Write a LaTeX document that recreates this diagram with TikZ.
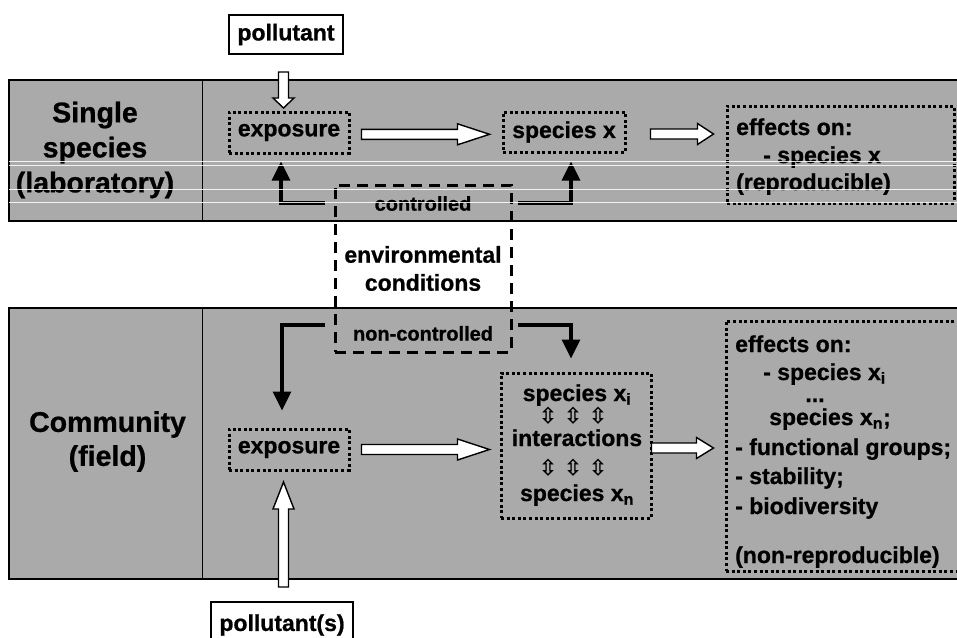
\documentclass[tikz,border=0pt]{standalone}
\usepackage{fontspec}
\setmainfont{Liberation Sans}[BoldFeatures={FakeBold=0.8}]
\newfontfamily\symfont{DejaVu Sans}[FakeBold=1.2]
\usetikzlibrary{arrows.meta,calc}
\definecolor{bandgray}{RGB}{170,170,170}
\newcommand\fs[2]{\fontsize{#1}{#2}\selectfont\bfseries}
\begin{document}
\begin{tikzpicture}[x=1pt,y=-1pt,
  dotbox/.style={draw=black, line width=3pt, dash pattern=on 3pt off 2.6pt, inner sep=0pt, font=\fs{23}{27}},
  solidbox/.style={draw=black, line width=2pt, fill=white, inner sep=0pt, font=\fs{23}{27}},
  envbox/.style={draw=black, line width=3pt, dash pattern=on 11pt off 7pt, inner sep=0pt, align=center, font=\fs{23}{28}},
  ctltxt/.style={font=\fs{20}{24}, inner sep=0pt},
  efftxt/.style={font=\fs{23}{27}, inner sep=0pt, anchor=base west},
  sptxt/.style={font=\fs{23}{27}, inner sep=0pt, anchor=base},
  symtxt/.style={font=\symfont\fontsize{21.5}{24}\selectfont, inner sep=0pt, text height=14pt, text depth=0pt},
  lbl/.style={font=\fs{28.5}{#1}, align=center, inner sep=0pt},
  ctrl/.style={line width=3.2pt, -{Triangle[length=19pt,width=18pt]}},
  bandline/.style={line width=1.3pt},
  hairline/.style={white, line width=0.6pt, opacity=0.85},
  pics/harrow/.style args={#1/#2}{code={\draw[line width=1.4pt, fill=white, miter limit=20]
     (0,-5) -- (#1-#2,-5) -- (#1-#2,-10.5) -- (#1,0) -- (#1-#2,10.5) -- (#1-#2,5) -- (0,5) -- cycle;}}
]
\useasboundingbox (0,0) rectangle (957,637);
\clip (0,0) rectangle (957,637);

% bands
\fill[bandgray] (9,80) rectangle (970,221);
\draw[bandline] (970,80) -- (9,80) -- (9,221) -- (970,221);
\draw[line width=1pt] (202,80) -- (202,221);
\fill[bandgray] (9,308) rectangle (970,579);
\draw[bandline] (970,308) -- (9,308) -- (9,579) -- (970,579);
\draw[line width=1pt] (202,308) -- (202,579);

% left labels
\node[lbl=35] (single) at (95,150) {Single\\species\\(laboratory)};
\node[lbl=34] (community) at (107.5,441.5) {Community\\(field)};

% top row
\node[solidbox, minimum width=114, minimum height=39] (pol1) at (286,34.5) {pollutant};
\node[dotbox, minimum width=120, minimum height=41] (exp1) at (289,132.5) {exposure};
\node[dotbox, minimum width=122, minimum height=40] (spx) at (564,132) {species x};
\node[dotbox, minimum width=227, minimum height=97] (eff1) at (840.5,154.5) {};
\node[efftxt] (eff1a) at (736,135) {effects on:};
\node[efftxt] (eff1b) at (763,163) {- species x};
\node[efftxt] (eff1c) at (736,190) {(reproducible)};

% environmental conditions
\node[envbox, minimum width=176, minimum height=167] (env) at (423,268.5) {environmental\\conditions};
\node[ctltxt] (ctl) at (423,203.5) {controlled};
\node[ctltxt] (nctl) at (423,333.4) {non-controlled};
\coordinate (cl) at (325,203);
\coordinate (cr) at (518,203);
\coordinate (nl) at (325,325);
\coordinate (nr) at (518,325);

% bottom row
\node[dotbox, minimum width=120, minimum height=41] (exp2) at (289,449.5) {exposure};
\node[dotbox, minimum width=150, minimum height=145] (spb) at (576,445.5) {};
\node[sptxt] (spbi) at (577,401) {species x\textsubscript{i}};
\node[symtxt] (arr1) at (573,416) {\makebox[25pt]{⇳}\makebox[25pt]{⇳}\makebox[25pt]{⇳}};
\node[sptxt] (spbint) at (577,446) {interactions};
\node[symtxt] (arr2) at (573,468) {\makebox[25pt]{⇳}\makebox[25pt]{⇳}\makebox[25pt]{⇳}};
\node[sptxt] (spbn) at (577,501) {species x\textsubscript{n}};
\node[dotbox, minimum width=244, minimum height=250] (eff2) at (848,446) {};
\node[efftxt] (eff2a) at (735,352) {effects on:};
\node[efftxt] (eff2b) at (763,380) {- species x\textsubscript{i}};
\node[sptxt] (eff2c) at (815,402) {...};
\node[efftxt] (eff2d) at (769,425) {species x\textsubscript{n};};
\node[efftxt] (eff2e) at (735,455) {- functional groups;};
\node[efftxt] (eff2f) at (735,484) {- stability;};
\node[efftxt] (eff2g) at (735,514) {- biodiversity};
\node[efftxt] (eff2h) at (735,563) {(non-reproducible)};
\node[solidbox, minimum width=142, minimum height=46] (pol2) at (282,625) {pollutant(s)};

% controlled / non-controlled connectors
\draw[ctrl] (cl) -| ($(exp1.south)+(-8,7)$);
\draw[ctrl] (cr) -| ($(spx.south)+(7,8)$);
\draw[ctrl] (nl) -| ($(exp2.north)+(-7,-17)$);
\draw[ctrl] (nr) -| ($(spb.north)+(-5,-13)$);

% hollow arrows
\pic[rotate=-90] at ($(pol1.south)+(-2.5,17)$) {harrow=36/10};
\pic at ($(exp1.east)+(11,1.8)$) {harrow=128/32};
\pic at ($(spx.east)+(24,2)$) {harrow=63/16};
\pic at ($(exp2.east)+(11,0)$) {harrow=128/32};
\pic at ($(spb.east)+(-1,2.5)$) {harrow=62/17};
\pic[rotate=90] at ($(pol2.north)+(1.5,-14)$) {harrow=105/27};

% thin white lines across the top band
\foreach \yy in {161,165,189,202} {\draw[hairline] (9,\yy) -- (970,\yy);}
\end{tikzpicture}
\end{document}
